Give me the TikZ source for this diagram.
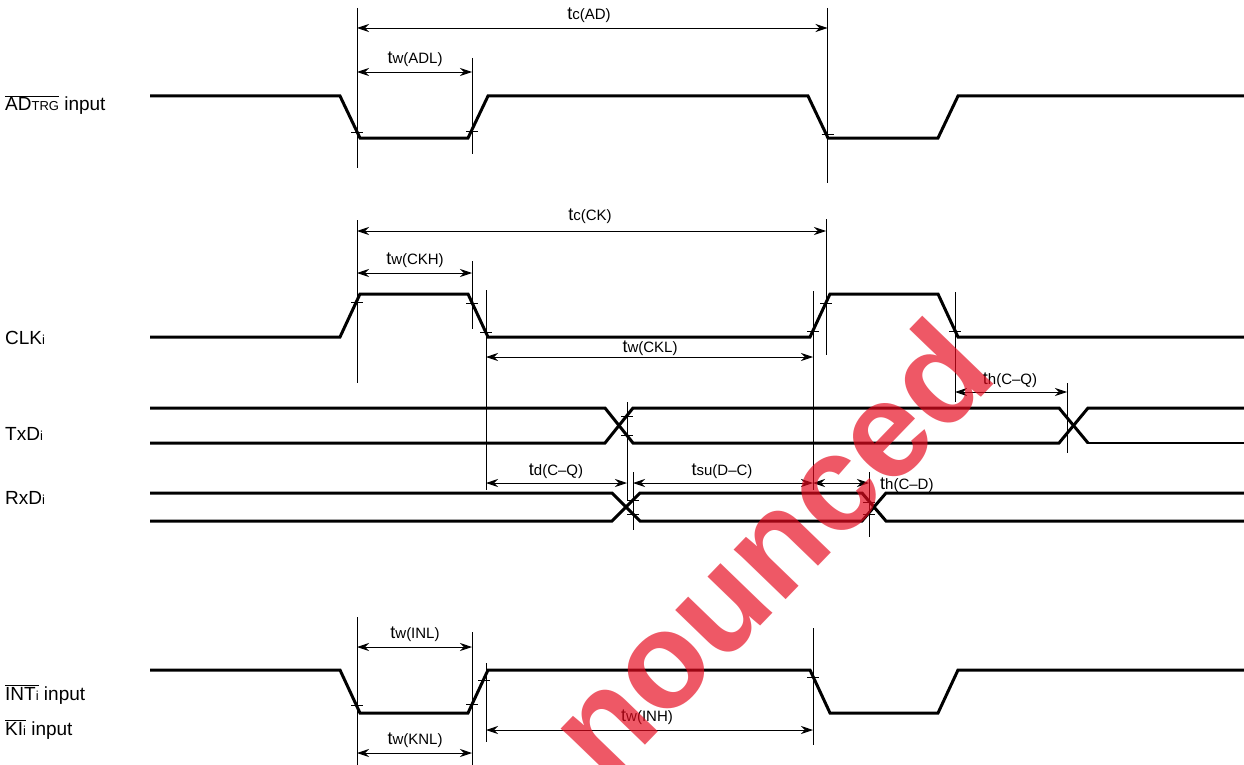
\documentclass[tikz,border=0pt]{standalone}
\usepackage{fontspec}
\setmainfont{Liberation Sans}
\usetikzlibrary{arrows.meta}
\definecolor{wmred}{RGB}{230,10,30}
\tikzset{
  wave/.style={line width=3pt, line join=miter},
  guide/.style={line width=0.9pt},
  tickmark/.style={line width=0.8pt},
  dim/.style={line width=0.9pt, {Stealth[length=12pt,width=8pt]}-{Stealth[length=12pt,width=8pt]}},
  sig/.style={anchor=base west, inner sep=0pt, font=\fontsize{19}{22}\selectfont},
  tl/.style={anchor=base, inner sep=0pt},
}
\newcommand{\tmk}[2]{{\fontsize{18}{20}\selectfont #1}{\fontsize{15}{17}\selectfont #2}}
\newcommand{\smallpart}[1]{{\fontsize{13}{15}\selectfont #1}}
\newcommand{\tk}[2]{\draw[tickmark] ({#1-6},#2) -- ({#1+6},#2);}
\begin{document}
\begin{tikzpicture}[x=1pt,y=-1pt]
\useasboundingbox (0,0) rectangle (1244,765);
\fill[white] (0,0) rectangle (1244,765);

% ---------- signal names ----------
\node[sig] (nadtrg) at (5,111) {$\overline{\hbox{AD\smallpart{TRG}}}$ input};
\node[sig] (nclk) at (5,344) {CLK\smallpart{i}};
\node[sig] (ntxd) at (5,440) {TxD\smallpart{i}};
\node[sig] (nrxd) at (5,504) {RxD\smallpart{i}};
\node[sig] (nint) at (5,700) {$\overline{\hbox{INT\smallpart{i}}}$ input};
\node[sig] (nki) at (5,735) {$\overline{\hbox{KI\smallpart{i}}}$ input};

% ---------- ADTRG ----------
\draw[wave] (150,96) -- (340,96) -- (360,138) -- (468,138) -- (488,96) -- (808,96) -- (828,138) -- (938,138) -- (958,96) -- (1244,96);
\draw[guide] (357,8) -- (357,168);
\draw[guide] (472,58) -- (472,154);
\draw[guide] (827.5,8) -- (827.5,183);
\tk{357}{132} \tk{472}{131} \tk{827.5}{134}
\draw[dim] (357,28) -- (827.5,28);
\node[tl] (ltcad) at (589,20) {\tmk{t}{c(AD)}};
\draw[dim] (357,72) -- (472,72);
\node[tl] (ltwadl) at (415,64) {\tmk{t}{w(ADL)}};

% ---------- CLK ----------
\draw[wave] (150,337) -- (340,337) -- (360,294) -- (468,294) -- (488,337) -- (810,337) -- (830,294) -- (938,294) -- (958,337) -- (1244,337);
\draw[guide] (357,220) -- (357,383);
\draw[guide] (472,261) -- (472,329);
\draw[guide] (486,290) -- (486,490);
\draw[guide] (826,219) -- (826,355);
\draw[guide] (813,291) -- (813,490);
\draw[guide] (955,292) -- (955,402);
\tk{357}{302} \tk{472}{303} \tk{486}{332} \tk{813}{331} \tk{826}{303} \tk{955}{331}
\draw[dim] (357,231) -- (826,231);
\node[tl] (ltcck) at (590,220) {\tmk{t}{c(CK)}};
\draw[dim] (357,273) -- (472,273);
\node[tl] (ltwckh) at (415,264) {\tmk{t}{w(CKH)}};
\draw[dim] (486,357) -- (813,357);
\node[tl] (ltwckl) at (650,352) {\tmk{t}{w(CKL)}};

% ---------- TxD ----------
\draw[wave] (150,408) -- (605,408) -- (633,443) -- (1059,443) -- (1088,408) -- (1244,408);
\draw[wave] (150,443) -- (605,443) -- (633,408) -- (1059,408) -- (1088,443);
\draw[line width=2pt] (1087,443) -- (1244,443);
\draw[guide] (1067,383) -- (1067,453);
\draw[guide] (627,402) -- (627,500);
\tk{627}{416} \tk{627}{435}
\draw[dim] (955,392) -- (1067,392);
\node[tl] (lthcq) at (1010,384) {\tmk{t}{h(C–Q)}};

% ---------- RxD ----------
\draw[wave] (150,493) -- (612,493) -- (640,521) -- (862,521) -- (886,493) -- (1244,493);
\draw[wave] (150,521) -- (612,521) -- (640,493) -- (862,493) -- (886,521) -- (1244,521);
\draw[guide] (633,472) -- (633,530);
\draw[guide] (869,472) -- (869,537);
\tk{633}{500} \tk{633}{514} \tk{869}{502} \tk{869}{514}
\draw[dim] (486,483) -- (627,483);
\node[tl] (ltdcq) at (556,475) {\tmk{t}{d(C–Q)}};
\draw[dim] (633,483) -- (813,483);
\node[tl] (ltsudc) at (722,475) {\tmk{t}{su(D–C)}};
\draw[dim] (813,483) -- (869,483);
\node[tl, anchor=base west] (lthcd) at (880,489) {\tmk{t}{h(C–D)}};

% ---------- INT / KI ----------
\draw[wave] (150,670) -- (340,670) -- (360,713) -- (468,713) -- (488,670) -- (810,670) -- (830,713) -- (938,713) -- (958,670) -- (1244,670);
\draw[guide] (357,617) -- (357,765);
\draw[guide] (472,632) -- (472,765);
\draw[guide] (486,663) -- (486,742);
\draw[guide] (813,628) -- (813,745);
\tk{357}{705} \tk{472}{704} \tk{484}{680} \tk{813}{677}
\draw[dim] (357,647) -- (472,647);
\node[tl] (ltwinl) at (415,638) {\tmk{t}{w(INL)}};
\draw[dim] (357,753) -- (472,753);
\node[tl] (ltwknl) at (415,744) {\tmk{t}{w(KNL)}};
\draw[dim] (486,730) -- (813,730);
\node[tl] (ltwinh) at (647,721) {\tmk{t}{w(INH)}};

% ---------- watermark ----------
\begin{scope}
\clip (0,0) rectangle (1244,765);
\node[rotate=46, text=wmred, opacity=0.68, inner sep=0pt, font=\fontsize{136}{146}\selectfont\bfseries] (wm) at (768,548) {nounced};
\end{scope}
\end{tikzpicture}
\end{document}
